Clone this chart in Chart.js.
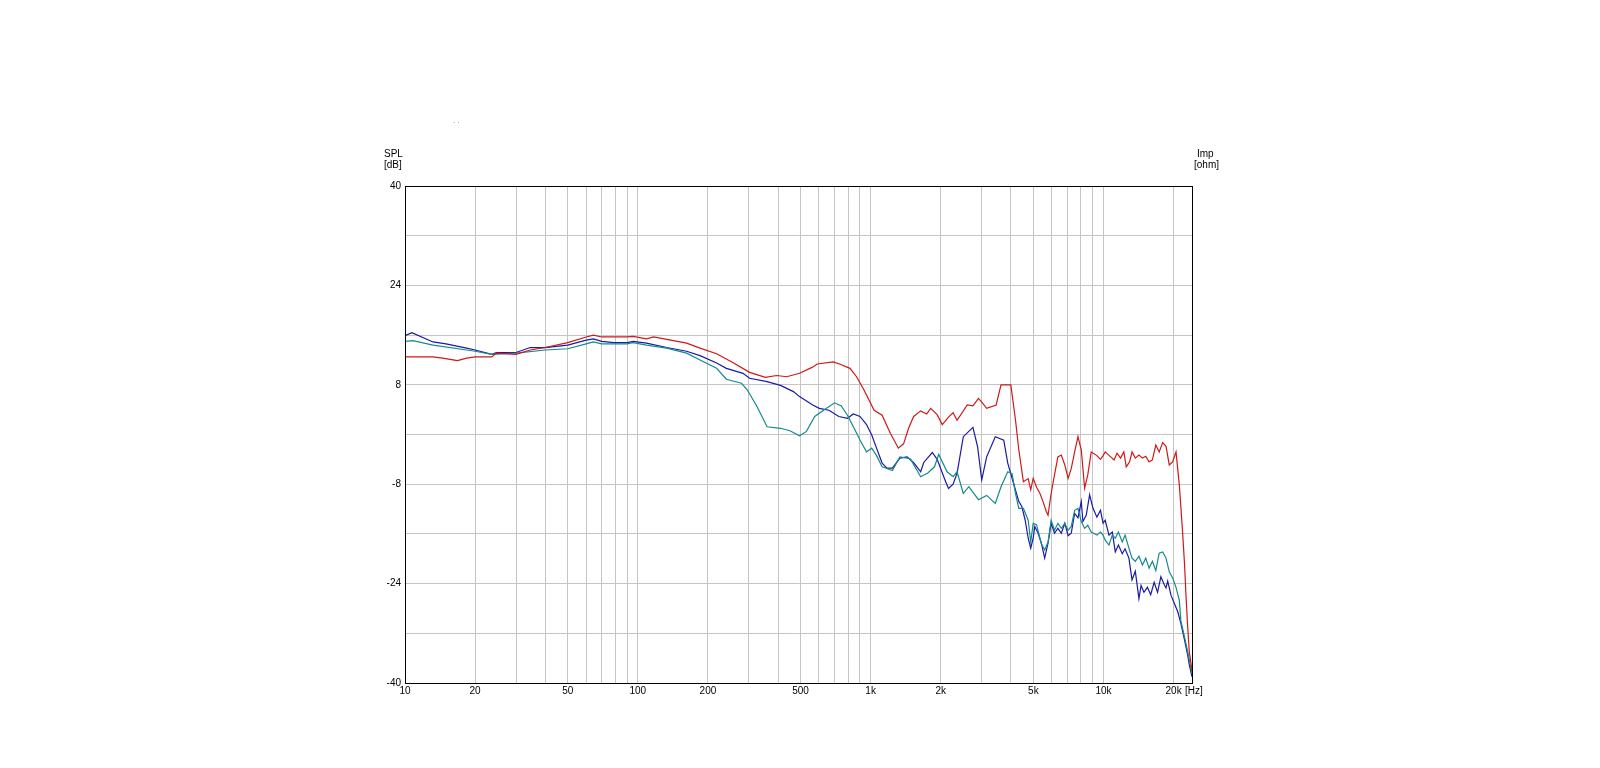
<!DOCTYPE html>
<html>
<head>
<meta charset="utf-8">
<script src="https://cdn.jsdelivr.net/npm/chart.js@4/dist/chart.umd.min.js"></script>
<style>
html,body{margin:0;padding:0;background:#fff;}
#wrap{width:1600px;height:768px;}
</style>
</head>
<body>
<div id="wrap"><canvas id="c" width="1600" height="768"></canvas></div>
<script>
// ---- data ----
const redFreq = [10,12,13.2,14.5,16.8,18.4,20,23.6,24.7,30,34.5,40,50,60,64.5,70,90,95.5,109,117,133,162,185,218,258,302,353,395,436,495,560,590,690,740,815,870,935,1035,1120,1215,1315,1385,1455,1530,1640,1740,1810,1930,2030,2160,2260,2350,2600,2750,2905,3000,3150,3460,3630,4000,4190,4330,4530,4750,4870,4990,5160,5330,5500,5680,5780,5960,6160,6370,6590,6820,7050,7270,7520,7770,8030,8300,8560,8860,9370,9710,9960,10170,10740,11100,11440,11840,12230,12530,12950,13260,13700,14200,14700,15190,15700,16220,16780,17350,17960,18560,19170,19820,20490,21170,21520,21890,22300,22620,23000,23370,24000];
const redSpl = [12.5,12.5,12.5,12.3,11.9,12.3,12.5,12.5,13.1,12.9,13.6,14.0,14.8,15.7,16.0,15.7,15.7,15.8,15.4,15.7,15.3,14.7,13.9,13.0,11.5,10.0,9.2,9.5,9.3,9.85,10.8,11.35,11.7,11.3,10.65,9.3,7.2,3.9,3.1,0.2,-2.2,-1.5,1.0,2.9,3.8,3.3,4.2,3.2,1.6,2.8,3.5,2.3,4.75,4.6,5.8,5.2,4.2,4.75,8.0,8.0,2.3,-2.5,-7.6,-7.1,-8.9,-7.05,-8.5,-9.45,-10.8,-12.4,-13.0,-9.5,-6.5,-3.6,-3.3,-4.9,-7.05,-5.5,-2.8,-0.35,-2.5,-8.65,-6.5,-2.8,-3.4,-4.0,-3.4,-2.8,-3.6,-4.1,-3.0,-3.8,-2.8,-5.2,-4.4,-2.8,-3.8,-3.3,-3.8,-3.5,-4.4,-4.1,-1.7,-2.8,-1.3,-1.9,-4.9,-4.4,-2.8,-8.1,-11.9,-16,-21,-26,-31,-35,-38];

const blueFreq = [10,10.7,13.2,15,18.4,20,23.6,24.7,30,34.5,40,50,60,64.5,70,79,90,95.5,109,133,162,185,218,240,283,302,359,410,466,495,564,602,662,730,795,843,900,960,1010,1060,1120,1175,1240,1335,1435,1530,1640,1690,1840,1930,2100,2160,2260,2350,2500,2750,2880,3000,3150,3430,3730,3880,4090,4330,4460,4610,4750,4870,4990,5070,5240,5410,5590,5780,5960,6160,6370,6590,6820,7050,7270,7520,7770,8030,8160,8430,8720,9000,9370,9710,9960,10170,10560,10910,11240,11590,12040,12380,12860,13260,13700,14200,14500,14920,15440,15950,16510,17070,17640,18250,18560,18870,19510,20160,20830,21500,22300,23000,23370,24000];
const blueSpl = [15.9,16.4,14.9,14.6,13.9,13.6,12.9,13.2,13.2,14.0,14.0,14.4,15.2,15.4,15.0,14.8,14.8,15.0,14.7,14.0,13.4,12.7,11.5,10.65,9.85,9.05,8.5,7.9,6.9,6.1,4.75,4.2,3.9,2.9,2.6,3.3,2.9,1.6,-0.05,-2.2,-4.6,-5.4,-5.4,-3.8,-3.6,-4.55,-6.0,-4.5,-2.9,-4.0,-7.6,-8.7,-8.0,-6.25,-0.35,1.15,-2.0,-7.3,-3.6,-0.35,-0.9,-4.6,-7.6,-10.8,-11.6,-13.8,-16.7,-18.3,-16.7,-14.8,-15.9,-17.5,-19.9,-17.5,-14.3,-15.9,-15.1,-15.9,-14.3,-16.3,-15.9,-12.7,-13.4,-10.8,-14.0,-13.0,-9.7,-11.8,-13.3,-12.2,-14.3,-13.8,-16.2,-15.7,-18.9,-17.8,-19.2,-18.4,-19.9,-23.4,-22.0,-26.4,-24.3,-25.4,-24.6,-25.8,-23.8,-25.4,-22.9,-24.2,-24.7,-23.6,-25.9,-27.2,-28.5,-30.4,-33.1,-35.5,-37.1,-39.0];

const tealFreq = [10,10.8,13.2,18.4,20,23.6,30,40,50,60,64.5,70,90,95.5,109,133,162,185,218,240,279,295,325,359,410,450,495,530,575,630,700,748,795,843,900,960,1010,1060,1120,1240,1335,1480,1640,1760,1880,1960,2130,2260,2350,2500,2640,2905,3150,3430,3630,3880,4050,4190,4330,4530,4750,4870,4990,5160,5240,5410,5590,5780,5960,6160,6370,6590,6820,7050,7270,7520,7770,8030,8300,8560,8860,9370,9710,9960,10170,10560,10910,11240,11590,12040,12380,12860,13260,13700,14200,14700,15190,15700,16220,16780,17350,17960,18560,19170,19820,20490,21170,21500,22300,23000,23370,24000];
const tealSpl = [15.0,15.1,14.4,13.6,13.4,12.9,13.1,13.6,13.8,14.6,14.9,14.6,14.6,14.8,14.4,13.9,13.1,12.0,10.65,8.9,8.25,7.2,4.5,1.25,1.0,0.6,-0.2,0.5,2.9,3.95,5.1,4.6,3.1,1.25,-0.9,-2.8,-2.2,-3.4,-5.2,-5.8,-3.6,-3.9,-6.8,-6.2,-5.2,-3.2,-6.0,-6.8,-6.0,-9.5,-8.4,-10.5,-9.8,-11.1,-8.4,-6.0,-6.3,-9.5,-11.9,-11.9,-13.8,-17.3,-14.3,-14.5,-15.5,-17.6,-18.6,-17.3,-13.8,-15.4,-14.3,-15.1,-14.3,-15.4,-14.8,-12.2,-11.9,-14.0,-15.1,-14.6,-15.7,-16.2,-15.7,-16.2,-17.0,-17.8,-16.2,-16.7,-15.7,-17.3,-16.2,-18.3,-19.9,-20.4,-19.6,-21.0,-19.9,-21.5,-20.4,-21.9,-19.1,-18.9,-19.9,-22.1,-23.1,-24.6,-26.7,-30.0,-32.6,-35.0,-36.3,-38.5];

const xGridTicks = [10,20,30,40,50,60,70,80,90,100,200,300,400,500,600,700,800,900,1000,2000,3000,4000,5000,6000,7000,8000,9000,10000,20000];
const xLabels = {10:'10',20:'20',50:'50',100:'100',200:'200',500:'500',1000:'1k',2000:'2k',5000:'5k',10000:'10k',20000:'20k'};
const yMin = -40, yMax = 40, yStep = 8;

function pts(f, v){ return f.map((x,i)=>({x:x, y:v[i]})); }

const FONT = '"Liberation Sans", Arial, sans-serif';

const decor = {
  id:'decor',
  afterDraw(chart){
    const ctx = chart.ctx, a = chart.chartArea;
    ctx.save();
    ctx.strokeStyle = '#000';
    ctx.lineWidth = 1;
    ctx.strokeRect(Math.round(a.left)+0.5, Math.round(a.top)+0.5, Math.round(a.right-a.left), Math.round(a.bottom-a.top));
    ctx.fillStyle = '#000';
    ctx.font = '10px ' + FONT;
    ctx.textBaseline = 'alphabetic';
    ctx.textAlign = 'left';
    ctx.fillText('SPL', a.left-21, a.top-29);
    ctx.fillText('[dB]', a.left-21, a.top-18);
    ctx.fillText('Imp', a.right+5, a.top-29);
    ctx.fillText('[ohm]', a.right+2, a.top-18);
    ctx.fillText('[Hz]', a.right-7, a.bottom+11);
    ctx.fillStyle = '#888';
    ctx.font = '7px ' + FONT;
    ctx.fillText('\u00b7 \u00b7', 453, 125);
    ctx.restore();
  }
};

new Chart(document.getElementById('c'), {
  type:'line',
  data:{
    datasets:[
      {label:'red', data:pts(redFreq, redSpl), borderColor:'#d01818', borderWidth:1.2, pointRadius:0, tension:0},
      {label:'teal', data:pts(tealFreq, tealSpl), borderColor:'#158a8a', borderWidth:1.2, pointRadius:0, tension:0},
      {label:'blue', data:pts(blueFreq, blueSpl), borderColor:'#1a1aa8', borderWidth:1.2, pointRadius:0, tension:0}
    ]
  },
  options:{
    responsive:false,
    animation:false,
    parsing:false,
    layout:{padding:{left:0, top:186, right:408, bottom:0}},
    plugins:{legend:{display:false}, tooltip:{enabled:false}},
    scales:{
      x:{
        type:'logarithmic', min:10, max:24000,
        afterBuildTicks(s){ s.ticks = xGridTicks.map(v=>({value:v})); },
        afterFit(s){ s.height = 85; },
        grid:{color:'#c4c4c4', lineWidth:1, drawTicks:false},
        border:{display:false},
        ticks:{autoSkip:false, maxRotation:0, padding:2, color:'#000', font:{family:FONT, size:10},
          callback(v){ return xLabels[v] || ''; }}
      },
      y:{
        type:'linear', min:yMin, max:yMax,
        afterBuildTicks(s){ const t=[]; for(let v=yMin; v<=yMax; v+=yStep) t.push({value:v}); s.ticks=t; },
        afterFit(s){ s.width = 405; },
        grid:{color:'#c4c4c4', lineWidth:1, drawTicks:false},
        border:{display:false},
        ticks:{padding:4, color:'#000', font:{family:FONT, size:10},
          callback(v){ return ((v - yMin) % 16 === 0) ? String(v) : ''; }}
      }
    }
  },
  plugins:[decor]
});
</script>
</body>
</html>
